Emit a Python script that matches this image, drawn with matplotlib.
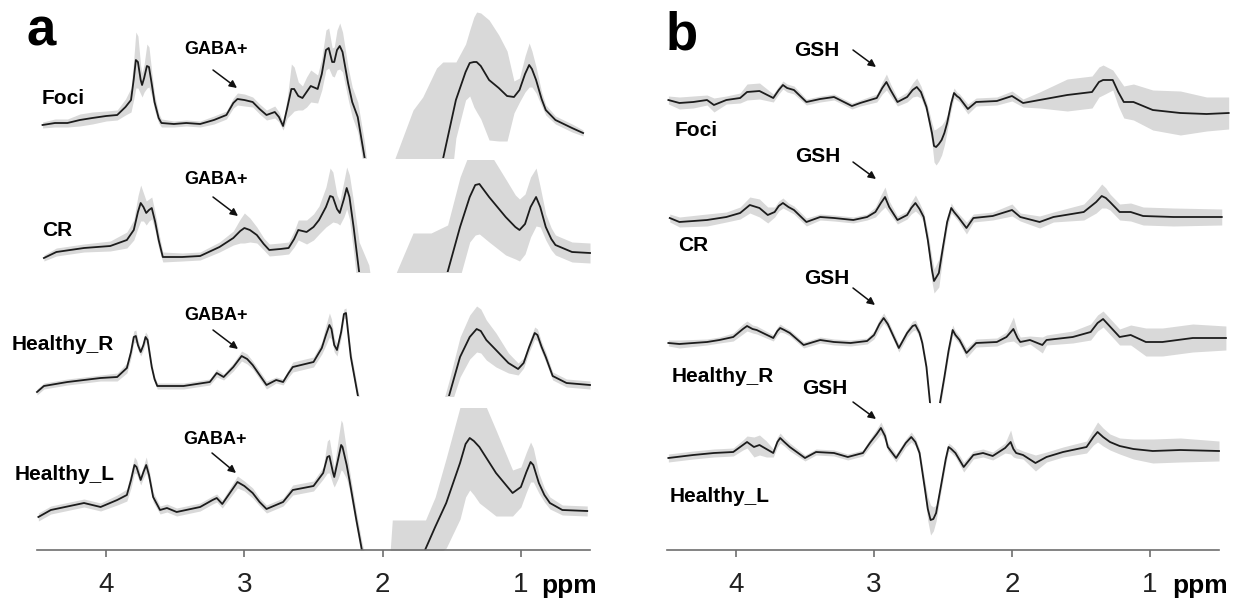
import numpy as np
import matplotlib.pyplot as plt
from matplotlib.patches import Rectangle

plt.rcParams['font.family'] = ['Liberation Sans', 'DejaVu Sans']

W, H = 1243, 600

# Each trace: (ppm, mean, sd).
# mean is relative to the trace's own baseline (a.u.), sd = half width of the grey band.

# ---------------- panel a : GABA-edited difference spectra ----------------
a_foci = [(4.46, -1, 3), (4.37, 1, 4), (4.28, 1, 4), (4.19, 4, 6), (4.10, 6, 6), (4.00, 8, 5),
          (3.92, 9, 5), (3.86, 17, 8), (3.82, 24, 12), (3.80, 45, 20), (3.785, 64, 28), (3.77, 62, 26),
          (3.75, 44, 14), (3.74, 39, 12), (3.725, 46, 14), (3.705, 58, 22), (3.69, 57, 20), (3.67, 40, 12),
          (3.65, 22, 8), (3.62, 6, 5), (3.60, 1, 4), (3.51, 0, 3), (3.42, 1, 3), (3.32, 0, 3),
          (3.22, 4, 4), (3.13, 9, 4), (3.08, 21, 5), (3.05, 25, 6), (3.00, 24, 6), (2.94, 22, 5),
          (2.89, 15, 5), (2.84, 9, 5), (2.78, 12, 6), (2.75, 7, 5), (2.72, -2, 4), (2.69, 16, 10),
          (2.66, 35, 25), (2.64, 35, 22), (2.61, 28, 14), (2.58, 26, 12), (2.55, 32, 15), (2.52, 38, 16),
          (2.47, 35, 14), (2.44, 50, 16), (2.41, 74, 20), (2.39, 76, 20), (2.365, 62, 14), (2.35, 62, 15),
          (2.33, 74, 20), (2.31, 78, 23), (2.29, 72, 20), (2.25, 41, 16), (2.22, 22, 15), (2.18, 7, 15),
          (2.13, -34, 15), (2.05, -136, 20), (1.98, -206, 100), (1.91, -216, 182), (1.78, -156, 170),
          (1.71, -116, 143), (1.61, -60, 116), (1.565, -36, 98), (1.47, 24, 38), (1.40, 52, 28),
          (1.37, 61, 33), (1.34, 62, 45), (1.32, 62, 50), (1.29, 58, 53), (1.23, 44, 60), (1.16, 36, 53),
          (1.10, 28, 45), (1.05, 27, 16), (1.01, 34, 12), (0.97, 50, 18), (0.94, 59, 22), (0.92, 55, 18),
          (0.89, 44, 13), (0.85, 25, 7), (0.82, 14, 5), (0.75, 4, 4), (0.63, -4, 4), (0.55, -9, 3)]

a_cr = [(4.45, -1, 3), (4.36, 5, 4), (4.16, 9, 4), (3.97, 11, 5), (3.85, 17, 8), (3.80, 27, 10),
        (3.77, 45, 16), (3.75, 54, 18), (3.73, 50, 14), (3.71, 44, 12), (3.69, 47, 11), (3.67, 49, 11),
        (3.645, 35, 9), (3.62, 17, 8), (3.59, 0, 5), (3.45, 0, 4), (3.32, 1, 4), (3.18, 10, 5),
        (3.08, 19, 7), (3.03, 26, 12), (3.00, 29, 15), (2.96, 27, 12), (2.91, 22, 8), (2.86, 13, 6),
        (2.82, 7, 6), (2.74, 8, 6), (2.68, 9, 6), (2.64, 18, 8), (2.61, 27, 10), (2.55, 25, 12),
        (2.50, 30, 13), (2.46, 37, 14), (2.41, 50, 20), (2.38, 61, 28), (2.36, 60, 25), (2.33, 48, 14),
        (2.31, 44, 12), (2.28, 58, 18), (2.26, 69, 21), (2.24, 60, 22), (2.21, 30, 25), (2.17, -15, 30),
        (2.10, -73, 65), (2.00, -163, 60), (1.90, -183, 168), (1.78, -133, 157), (1.65, -75, 99),
        (1.53, -15, 47), (1.44, 30, 50), (1.37, 60, 45), (1.33, 72, 50), (1.30, 73, 50), (1.23, 60, 45),
        (1.11, 40, 38), (1.04, 30, 32), (1.01, 27, 31), (0.97, 33, 30), (0.93, 50, 30), (0.89, 60, 29),
        (0.86, 50, 20), (0.82, 30, 13), (0.78, 18, 11), (0.75, 12, 10), (0.63, 5, 10), (0.50, 4, 10)]

a_hr = [(4.50, -5, 3), (4.45, 1, 3), (4.28, 5, 3), (4.04, 9, 3), (3.92, 10, 4), (3.85, 19, 5),
        (3.82, 35, 6), (3.80, 50, 6), (3.785, 51, 6), (3.77, 42, 5), (3.75, 35, 4), (3.73, 42, 5),
        (3.715, 50, 5), (3.70, 47, 5), (3.67, 20, 4), (3.65, 8, 3), (3.63, 1, 3), (3.44, 1, 3),
        (3.25, 5, 3), (3.20, 14, 4), (3.15, 10, 3), (3.08, 20, 4), (3.02, 31, 5), (2.98, 28, 5),
        (2.94, 22, 4), (2.89, 12, 4), (2.84, 2, 4), (2.77, 7, 3), (2.72, 5, 3), (2.68, 14, 4),
        (2.65, 20, 5), (2.50, 25, 5), (2.44, 39, 6), (2.41, 52, 10), (2.385, 62, 12), (2.37, 58, 10),
        (2.35, 42, 7), (2.33, 37, 6), (2.30, 55, 6), (2.28, 73, 5), (2.265, 74, 5), (2.25, 55, 6),
        (2.23, 30, 6), (2.18, -8, 6), (2.10, -63, 6), (1.90, -133, 6), (1.70, -93, 10), (1.52, -9, 15),
        (1.44, 30, 20), (1.37, 50, 22), (1.32, 58, 23), (1.29, 56, 22), (1.25, 47, 20), (1.18, 37, 17),
        (1.09, 24, 10), (1.02, 18, 6), (0.98, 24, 5), (0.94, 40, 5), (0.90, 54, 6), (0.88, 52, 6),
        (0.85, 40, 5), (0.82, 30, 5), (0.77, 11, 4), (0.67, 4, 4), (0.50, 2, 4)]

a_hl = [(4.49, -7, 4), (4.40, 0, 4), (4.16, 7, 4), (4.04, 3, 4), (3.92, 10, 5), (3.85, 15, 6),
        (3.82, 30, 8), (3.795, 45, 8), (3.78, 43, 7), (3.75, 30, 5), (3.73, 38, 6), (3.71, 45, 8),
        (3.69, 35, 6), (3.66, 13, 5), (3.61, 0, 4), (3.56, 2, 4), (3.49, -2, 4), (3.32, 3, 4),
        (3.23, 10, 4), (3.20, 12, 4), (3.16, 6, 4), (3.10, 18, 5), (3.05, 28, 6), (3.00, 24, 5),
        (2.94, 17, 5), (2.89, 8, 4), (2.84, 1, 4), (2.72, 8, 4), (2.65, 20, 5), (2.50, 24, 5),
        (2.43, 37, 6), (2.40, 53, 16), (2.385, 54, 17), (2.36, 38, 12), (2.35, 33, 10), (2.32, 52, 20),
        (2.30, 65, 25), (2.29, 63, 24), (2.26, 45, 14), (2.24, 30, 10), (2.19, -10, 8), (2.15, -40, 8),
        (2.05, -100, 10), (1.98, -130, 20), (1.93, -115, 105), (1.80, -73, 63), (1.69, -39, 29),
        (1.62, -17, 30), (1.54, 7, 45), (1.44, 47, 56), (1.40, 66, 53), (1.37, 72, 52), (1.34, 69, 54),
        (1.30, 63, 56), (1.18, 37, 43), (1.06, 17, 23), (1.00, 23, 20), (0.96, 38, 20), (0.93, 48, 20),
        (0.91, 45, 17), (0.87, 27, 10), (0.83, 15, 7), (0.79, 7, 6), (0.70, 0, 5), (0.52, -1, 5)]

# ---------------- panel b : GSH-edited difference spectra ----------------
b_foci = [(4.49, 0, 4), (4.41, -3, 6), (4.31, -2, 6), (4.21, 0, 5), (4.16, -5, 7), (4.07, 0, 4),
          (3.97, 2, 5), (3.92, 8, 8), (3.83, 9, 8), (3.73, 2, 4), (3.69, 10, 4), (3.66, 15, 4),
          (3.63, 12, 4), (3.58, 10, 4), (3.49, -2, 3), (3.39, 1, 3), (3.29, 3, 3), (3.16, -6, 3),
          (3.10, -3, 3), (2.98, 2, 4), (2.94, 12, 6), (2.91, 18, 8), (2.88, 10, 6), (2.83, -2, 4),
          (2.76, 3, 5), (2.72, 10, 7), (2.69, 13, 9), (2.66, 8, 6), (2.62, -7, 5), (2.60, -20, 8),
          (2.58, -33, 10), (2.565, -46, 16), (2.55, -47, 18), (2.53, -44, 17), (2.51, -40, 15),
          (2.49, -33, 12), (2.47, -23, 8), (2.44, -3, 6), (2.42, 7, 5), (2.40, 4, 4), (2.38, 2, 4),
          (2.32, -9, 5), (2.26, -2, 4), (2.11, -1, 4), (2.00, 4, 5), (1.92, -3, 4), (1.80, 0, 8),
          (1.60, 5, 16), (1.42, 8, 16), (1.37, 18, 15), (1.34, 20, 15), (1.27, 20, 10), (1.23, 8, 14),
          (1.19, -2, 16), (1.12, -2, 18), (0.98, -10, 20), (0.78, -13, 22), (0.59, -14, 17), (0.43, -13, 16)]

b_cr = [(4.48, -1, 4), (4.41, -5, 5), (4.21, -3, 6), (4.07, 0, 5), (3.97, 4, 6), (3.90, 12, 8),
        (3.83, 9, 9), (3.77, 2, 8), (3.72, 5, 5), (3.69, 11, 5), (3.66, 14, 5), (3.62, 10, 4),
        (3.58, 7, 4), (3.49, -5, 4), (3.39, 0, 3), (3.29, -1, 3), (3.15, -3, 3), (3.05, 0, 3),
        (2.99, 5, 5), (2.95, 14, 8), (2.92, 20, 10), (2.89, 10, 6), (2.83, -3, 4), (2.76, 2, 4),
        (2.73, 9, 6), (2.70, 14, 8), (2.67, 8, 6), (2.64, 0, 5), (2.61, -23, 8), (2.58, -53, 12),
        (2.565, -64, 12), (2.53, -56, 14), (2.50, -30, 8), (2.47, -5, 6), (2.44, 9, 5), (2.42, 5, 4),
        (2.39, 0, 4), (2.33, -11, 6), (2.28, -1, 4), (2.14, 1, 4), (2.00, 7, 6), (1.94, 0, 4),
        (1.80, -5, 6), (1.70, 0, 5), (1.48, 5, 8), (1.39, 15, 11), (1.35, 21, 12), (1.32, 19, 10),
        (1.29, 15, 8), (1.22, 5, 8), (1.14, 5, 9), (1.05, 1, 9), (0.83, 0, 9), (0.48, 0, 8)]

b_hr = [(4.49, -2, 3), (4.41, -3, 4), (4.21, -1, 3), (4.12, 1, 3), (4.02, 4, 4), (3.95, 12, 5),
        (3.92, 15, 5), (3.88, 12, 4), (3.85, 11, 4), (3.73, 3, 3), (3.70, 10, 4), (3.68, 13, 4),
        (3.65, 11, 3), (3.61, 8, 3), (3.51, -4, 3), (3.39, 1, 3), (3.29, -1, 3), (3.17, -2, 3),
        (3.05, 0, 3), (3.00, 6, 4), (2.96, 17, 5), (2.93, 23, 5), (2.90, 17, 4), (2.87, 8, 4),
        (2.82, -7, 4), (2.76, 8, 4), (2.72, 15, 5), (2.70, 16, 5), (2.67, 8, 4), (2.65, -2, 4),
        (2.62, -26, 5), (2.594, -62, 6), (2.56, -130, 6), (2.522, -62, 6), (2.49, -36, 5),
        (2.46, -10, 5), (2.43, 11, 5), (2.41, 6, 4), (2.38, 1, 4), (2.33, -12, 5), (2.26, -2, 4),
        (2.11, -1, 4), (2.04, 4, 5), (1.99, 12, 12), (1.96, 3, 6), (1.94, -1, 5), (1.87, 1, 4),
        (1.78, -4, 8), (1.75, 1, 5), (1.56, 4, 6), (1.43, 9, 8), (1.38, 18, 8), (1.34, 22, 8),
        (1.30, 16, 8), (1.22, 4, 8), (1.14, 6, 10), (1.03, -1, 14), (0.91, -1, 14), (0.69, 3, 14),
        (0.45, 3, 12)]

b_hl = [(4.49, -4, 4), (4.43, -3, 4), (4.31, -1, 4), (4.16, 1, 4), (4.02, 2, 4), (3.95, 9, 5),
        (3.92, 12, 6), (3.87, 7, 10), (3.83, 9, 10), (3.78, 5, 8), (3.73, 1, 4), (3.70, 12, 5),
        (3.68, 16, 5), (3.65, 12, 4), (3.61, 7, 4), (3.50, -4, 3), (3.42, 2, 3), (3.29, 1, 3),
        (3.19, -3, 3), (3.08, 1, 3), (3.03, 11, 4), (2.98, 20, 5), (2.95, 26, 6), (2.92, 18, 5),
        (2.90, 7, 4), (2.84, -4, 4), (2.77, 11, 4), (2.73, 17, 5), (2.70, 12, 4), (2.67, 1, 4),
        (2.63, -36, 8), (2.61, -55, 12), (2.59, -66, 15), (2.57, -65, 12), (2.55, -59, 8),
        (2.52, -36, 6), (2.48, -5, 5), (2.46, 7, 4), (2.44, 5, 4), (2.41, 1, 4), (2.35, -13, 5),
        (2.28, -1, 4), (2.21, 1, 4), (2.14, -2, 4), (2.05, 6, 5), (2.01, 12, 12), (1.99, 5, 8),
        (1.97, 1, 5), (1.92, -1, 4), (1.83, -9, 8), (1.75, -3, 5), (1.63, 2, 5), (1.46, 7, 6),
        (1.41, 17, 8), (1.38, 22, 10), (1.34, 17, 9), (1.29, 12, 8), (1.22, 8, 8), (1.12, 5, 10),
        (0.98, 3, 12), (0.78, 4, 12), (0.50, 3, 10)]

region_names = ["Foci", "CR", "Healthy_R", "Healthy_L"]

# stacking offsets and visible strip of each trace (same units, 0 = ppm axis)
a_offsets = [426, 293, 163, 40]
a_strips = [(392, 560), (278, 390), (154, 266), (0, 142)]
b_offsets = [450, 333, 209, 96]
b_strips = [(0, 560), (0, 560), (147, 560), (0, 560)]

fig = plt.figure(figsize=(W / 100, H / 100), dpi=100)

# axes placed in pixels: left edge = 4.5 ppm, bottom = ppm axis at y=550
ax_a = fig.add_axes([37 / W, 50 / H, (4.5 - 0.45) * 138.25 / W, 550 / H])
ax_b = fig.add_axes([667 / W, 50 / H, (4.5 - 0.42) * 138.0 / W, 550 / H])
ax_a.set_xlim(4.5, 0.45)
ax_b.set_xlim(4.5, 0.42)


def draw_trace(ax, trace, off, strip):
    ppm, mean, sd = (np.array(v, dtype=float) for v in zip(*trace))
    m = mean + off
    clip = Rectangle((0, strip[0]), 6, strip[1] - strip[0], transform=ax.transData)
    band = ax.fill_between(ppm, m - sd, m + sd, color='#d9d9d9', lw=0, zorder=1)
    line, = ax.plot(ppm, m, color='#1c1c1c', lw=1.3, zorder=2, solid_joinstyle='round')
    band.set_clip_path(clip)
    line.set_clip_path(clip)


for ax, data, offs, strips in [(ax_a, [a_foci, a_cr, a_hr, a_hl], a_offsets, a_strips),
                               (ax_b, [b_foci, b_cr, b_hr, b_hl], b_offsets, b_strips)]:
    for trace, off, st in zip(data, offs, strips):
        draw_trace(ax, trace, off, st)
    ax.set_ylim(0, 550)
    for side in ['left', 'right', 'top']:
        ax.spines[side].set_visible(False)
    ax.spines['bottom'].set_bounds(0.5, 4.5)
    ax.spines['bottom'].set_color('#6e6e6e')
    ax.spines['bottom'].set_linewidth(1.2)
    ax.set_yticks([])
    ax.set_xticks([4, 3, 2, 1])
    ax.set_xticklabels(['4', '3', '2', '1'])
    ax.tick_params(axis='x', direction='out', length=5, width=1.2, color='#6e6e6e',
                   labelsize=20, pad=11, labelcolor='#222222')
    ax.patch.set_alpha(0)


def fp(x, y):
    # image pixel (top-left origin) -> figure fraction
    return (x / W, 1 - y / H)


# panel letters
fig.text(*fp(27, 46), 'a', fontsize=38, fontweight='bold', va='baseline', ha='left')
fig.text(*fp(666, 49), 'b', fontsize=38, fontweight='bold', va='baseline', ha='left')

# ppm units
fig.text(*fp(541, 586), 'ppm', fontsize=19, fontweight='bold', va='center', ha='left')
fig.text(*fp(1172, 586), 'ppm', fontsize=19, fontweight='bold', va='center', ha='left')

# region labels
a_label_pos = [(42, 98), (42, 230), (12, 345), (15, 475)]
b_label_pos = [(675, 130), (678, 246), (672, 376), (670, 496)]
for name, (x, y) in zip(region_names, a_label_pos):
    fig.text(*fp(x, y), name, fontsize=15, fontweight='bold', va='center', ha='left')
for name, (x, y) in zip(region_names, b_label_pos):
    fig.text(*fp(x, y), name, fontsize=15, fontweight='bold', va='center', ha='left')

arrow_kw = dict(arrowstyle='-|>', color='#111111', lw=1.1, mutation_scale=11, shrinkA=0, shrinkB=0)

# GABA+ markers
gaba_text = [(216, 50), (216, 180), (216, 316), (215, 439)]
gaba_arrows = [((213, 70), (237, 88)), ((213, 197), (238, 216)),
               ((213, 330), (238, 349)), ((212, 453), (236, 473))]
for (tx, ty), (a0, a1) in zip(gaba_text, gaba_arrows):
    fig.text(*fp(tx, ty), 'GABA+', fontsize=13, fontweight='bold', va='center', ha='center')
    ax_a.annotate('', xy=fp(*a1), xycoords='figure fraction', xytext=fp(*a0),
                  textcoords='figure fraction', arrowprops=arrow_kw)

# GSH markers
gsh_text = [(817, 51), (818, 157), (827, 278), (825, 389)]
gsh_arrows = [((853, 50), (876, 67)), ((853, 162), (876, 179)),
              ((853, 288), (875, 305)), ((853, 402), (876, 419))]
for (tx, ty), (a0, a1) in zip(gsh_text, gsh_arrows):
    fig.text(*fp(tx, ty), 'GSH', fontsize=15, fontweight='bold', va='center', ha='center')
    ax_b.annotate('', xy=fp(*a1), xycoords='figure fraction', xytext=fp(*a0),
                  textcoords='figure fraction', arrowprops=arrow_kw)

fig.savefig('out.png', dpi=100, facecolor='white')
